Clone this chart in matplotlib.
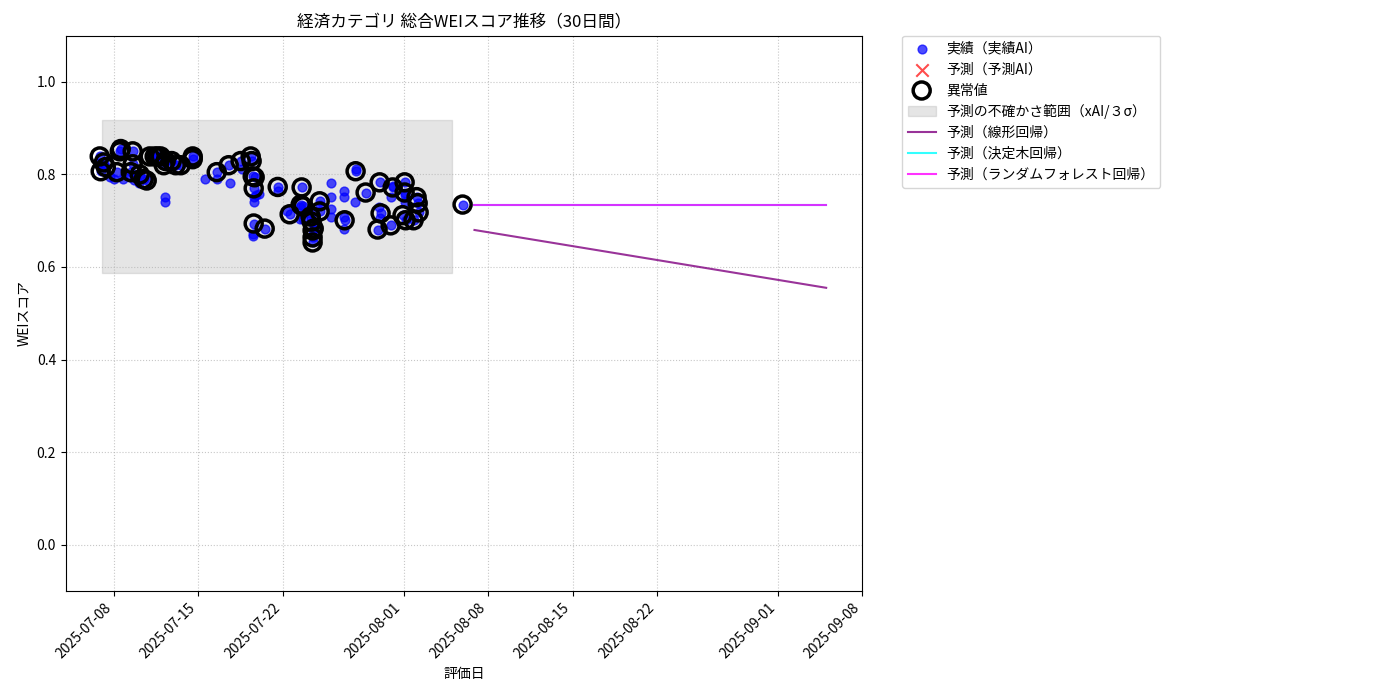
import matplotlib
matplotlib.use("Agg")
import matplotlib.pyplot as plt
import matplotlib.dates as mdates
import pandas as pd
import numpy as np

plt.rcParams['font.family'] = ['Noto Sans CJK JP', 'DejaVu Sans']

# anomaly points (days after 2025-07-08, score)
anom_days = [-1.16,-1.08,-0.83,-0.66,0.25,0.5,0.58,1.41,1.57,1.57,2.15,2.48,2.73,2.98,3.39,3.64,3.89,4.14,4.30,4.80,5.13,5.55,6.54,6.54,
             8.53,9.52,10.51,11.34,11.42,11.51,11.59,11.67,11.59,12.50,13.58,14.57,15.48,15.56,15.65,16.31,16.39,16.47,16.47,16.47,16.56,
             17.05,17.05,19.12,20.03,20.86,21.85,22.02,22.10,22.93,23.10,23.92,24.09,24.09,24.17,24.83,25.08,25.17,25.25,28.89]
anom_vals = [0.839,0.807,0.826,0.816,0.805,0.850,0.855,0.805,0.850,0.822,0.800,0.790,0.787,0.839,0.839,0.839,0.839,0.820,0.829,0.829,0.820,0.820,0.839,0.833,
             0.805,0.820,0.829,0.839,0.829,0.796,0.770,0.794,0.694,0.683,0.773,0.714,0.735,0.772,0.731,0.709,0.698,0.679,0.664,0.653,0.683,
             0.742,0.720,0.701,0.807,0.761,0.681,0.783,0.716,0.690,0.772,0.712,0.783,0.761,0.701,0.701,0.751,0.738,0.718,0.735]
# other actual points
other_days = [-1.24,-0.91,-0.33,0.0,0.75,1.32,1.66,2.07,4.22,4.22,7.53,8.53,9.60,10.60,11.59,11.59,11.75,12.00,11.51,11.51,13.58,14.32,
              15.40,15.40,15.65,16.23,17.05,17.96,17.96,17.96,17.96,19.04,19.04,19.04,19.04,19.95,20.03,21.94,22.93,23.10,22.02,24.09,24.09]
other_vals = [0.824,0.820,0.794,0.790,0.790,0.794,0.787,0.781,0.751,0.740,0.790,0.790,0.781,0.812,0.751,0.740,0.755,0.757,0.672,0.666,0.764,0.720,
              0.729,0.703,0.703,0.716,0.735,0.781,0.751,0.725,0.709,0.764,0.751,0.709,0.683,0.740,0.812,0.729,0.751,0.775,0.705,0.755,0.740]

base = pd.Timestamp('2025-07-08')
to_dates = lambda d: base + pd.to_timedelta(np.array(d), unit='D')
act_dates = to_dates(anom_days + other_days)
act_vals = anom_vals + other_vals
an_dates = to_dates(anom_days)

band_start, band_end = '2025-07-07 00:00', '2025-08-05 00:00'
band_low, band_high = 0.588, 0.918
pred_dates = [pd.Timestamp('2025-08-06 21:00'), pd.Timestamp('2025-09-05 00:00')]
lin_pred = [0.680, 0.555]
tree_pred = [0.735, 0.735]
rf_pred = [0.733, 0.733]

fig = plt.figure(figsize=(14, 7), dpi=100)
ax = fig.add_axes([0.047, 0.156, 0.569, 0.793])
ax.scatter(act_dates, act_vals, color='blue', alpha=0.7, s=40, label='実績（実績AI）', zorder=3)
ax.scatter([], [], color='red', marker='x', alpha=0.7, s=80, label='予測（予測AI）')
ax.scatter(an_dates, anom_vals, facecolors='none', edgecolors='black', s=150, linewidths=2.5, label='異常値', zorder=4)
ax.fill_between(pd.to_datetime([band_start, band_end]), band_low, band_high, color='gray', alpha=0.2,
                label='予測の不確かさ範囲（xAI/３σ）')
ax.plot(pred_dates, lin_pred, color='purple', alpha=0.8, label='予測（線形回帰）')
ax.plot(pred_dates, tree_pred, color='cyan', alpha=0.8, label='予測（決定木回帰）')
ax.plot(pred_dates, rf_pred, color='magenta', alpha=0.8, label='予測（ランダムフォレスト回帰）')

ax.set_xlim(base + pd.Timedelta(days=-3.97), base + pd.Timedelta(days=62.0))
ax.set_ylim(-0.1, 1.1)
ax.xaxis.set_major_locator(mdates.DayLocator(bymonthday=[1, 8, 15, 22]))
ax.xaxis.set_major_formatter(mdates.DateFormatter('%Y-%m-%d'))
plt.setp(ax.get_xticklabels(), rotation=45, ha='right')
ax.grid(True, linestyle=':', alpha=0.7)
ax.set_title('経済カテゴリ 総合WEIスコア推移（30日間）')
ax.set_xlabel('評価日')
ax.set_ylabel('WEIスコア')
ax.legend(loc='upper left', bbox_to_anchor=(1.05, 1.0), borderaxespad=0.)
fig.savefig('out.png', dpi=100)
